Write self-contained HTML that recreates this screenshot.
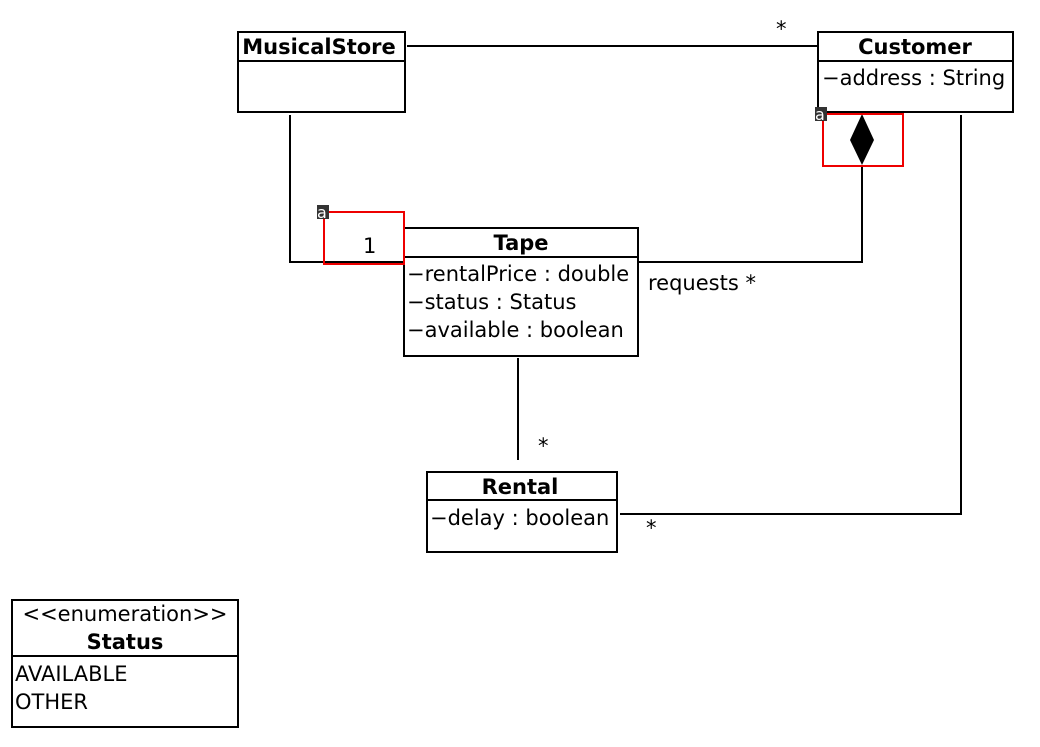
<!DOCTYPE html>
<html><head><style>
body{margin:0;background:#fff;}
svg text{font-family:"DejaVu Sans","Liberation Sans",sans-serif;font-size:21px;fill:#000;}
.b{font-weight:bold;}
</style></head><body>
<svg width="1040" height="742" xmlns="http://www.w3.org/2000/svg">
<g fill="none" stroke="#000" stroke-width="2">
<rect x="238" y="32" width="167" height="80"/><line x1="238" y1="61" x2="405" y2="61"/>
<rect x="818" y="32" width="195" height="80"/><line x1="818" y1="61" x2="1013" y2="61"/>
<rect x="404" y="228" width="234" height="128"/><line x1="404" y1="257" x2="638" y2="257"/>
<rect x="427" y="472" width="190" height="80"/><line x1="427" y1="500" x2="617" y2="500"/>
<rect x="12" y="600" width="226" height="127"/><line x1="12" y1="656" x2="238" y2="656"/>
<line x1="407" y1="46" x2="818" y2="46"/>
<polyline points="290,115 290,262 404,262"/>
<polyline points="638,262 862,262 862,165"/>
<polyline points="961,115 961,514 620,514"/>
<line x1="518" y1="358" x2="518" y2="460"/>
</g>
<polygon points="862,114 874,140 862,165 850,140" fill="#000"/>
<g fill="none" stroke="#e00" stroke-width="2">
<rect x="324" y="212" width="80" height="52"/>
<rect x="823" y="114" width="80" height="52"/>
</g>
<rect x="317" y="205" width="12" height="14" fill="#333"/>
<text x="317" y="218" style="fill:#fff;font-size:16px">a</text>
<rect x="815" y="107" width="12" height="14" fill="#333"/>
<text x="815" y="120" style="fill:#fff;font-size:16px">a</text>
<text class="b" x="319" y="54" text-anchor="middle">MusicalStore</text>
<text class="b" x="915" y="54" text-anchor="middle">Customer</text>
<text x="822" y="85">−address : String</text>
<text class="b" x="521" y="250" text-anchor="middle">Tape</text>
<text x="407" y="281">−rentalPrice : double</text>
<text x="407" y="309">−status : Status</text>
<text x="407" y="337">−available : boolean</text>
<text class="b" x="520" y="494" text-anchor="middle">Rental</text>
<text x="430" y="525">−delay : boolean</text>
<text x="125" y="621" text-anchor="middle">&lt;&lt;enumeration&gt;&gt;</text>
<text class="b" x="125" y="649" text-anchor="middle">Status</text>
<text x="15" y="681">AVAILABLE</text>
<text x="15" y="709">OTHER</text>
<text x="363" y="253">1</text>
<text x="776" y="36">*</text>
<text x="648" y="290">requests *</text>
<text x="538" y="453">*</text>
<text x="646" y="535">*</text>
</svg>
</body></html>
